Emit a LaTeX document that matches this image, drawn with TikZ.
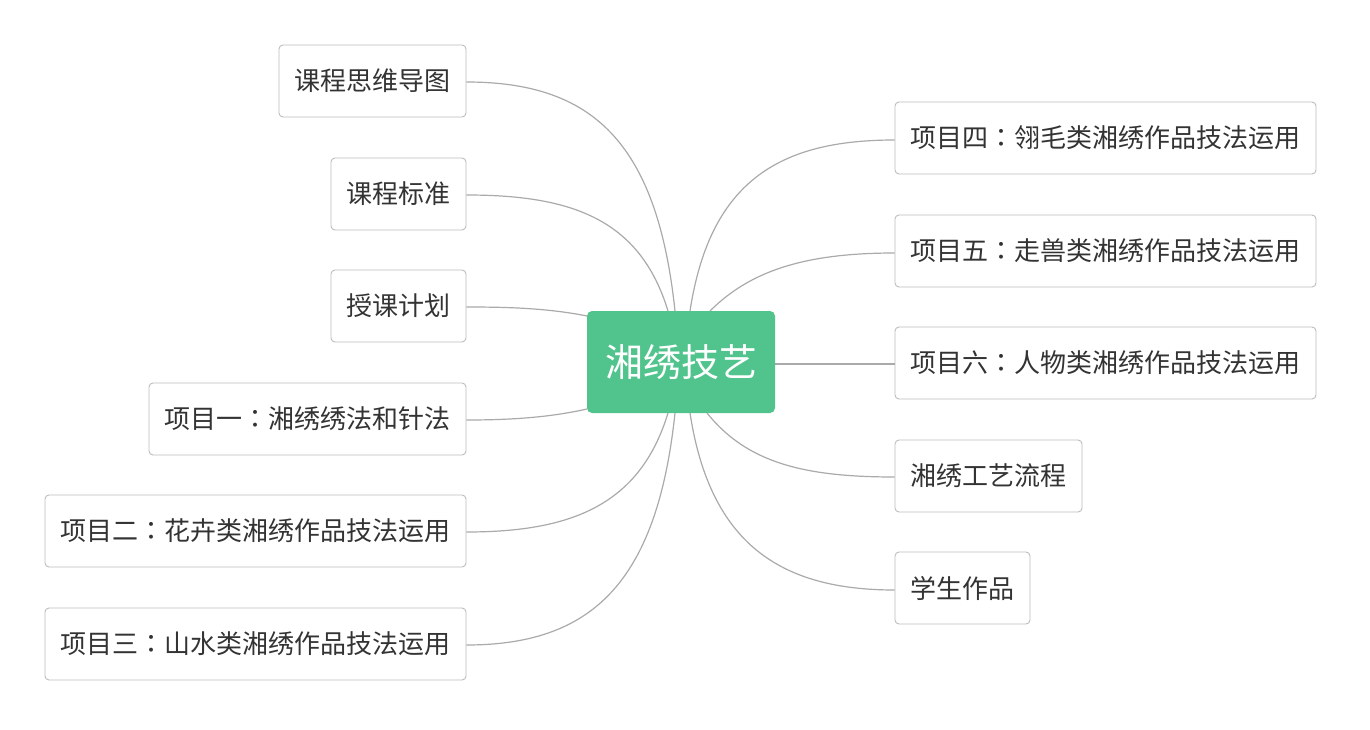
\documentclass[tikz,border=0pt]{standalone}
\usepackage{fontspec}
\newfontfamily\cjk{Noto Sans CJK SC}
\newfontfamily\cjktc{Noto Sans CJK TC}
\newcommand{\mycolon}{{\cjktc ：}}
\definecolor{mygreen}{HTML}{50C48C}
\definecolor{boxline}{HTML}{BDBDBD}
\definecolor{txt}{HTML}{333333}
\definecolor{link}{HTML}{AAAAAA}
\begin{document}
\begin{tikzpicture}[x=1pt,y=-1pt,
  leaf/.style={draw=boxline, line width=0.9pt, rounded corners=4pt, fill=white, text=txt,
    font=\cjk\fontsize{26}{30}\selectfont, inner sep=0pt, minimum height=72pt},
  root/.style={fill=mygreen, rounded corners=5pt, text=white, inner sep=0pt,
    font=\cjk\fontsize{38}{44}\selectfont, minimum width=188pt, minimum height=102pt},
  conn/.style={draw=link, line width=1.2pt}]
\useasboundingbox[fill=white] (0,0) rectangle (1370,730);
\node[root] (c) at (681,362) {湘绣技艺};
% left
\node[leaf, minimum width=187pt] (l1) at (372.5,81) {课程思维导图};
\node[leaf, minimum width=135pt] (l2) at (398.5,194) {课程标准};
\node[leaf, minimum width=135pt] (l3) at (398.5,306) {授课计划};
\node[leaf, minimum width=317pt] (l4) at (307.5,419) {项目一\mycolon 湘绣绣法和针法};
\node[leaf, minimum width=421pt] (l5) at (255.5,531) {项目二\mycolon 花卉类湘绣作品技法运用};
\node[leaf, minimum width=421pt] (l6) at (255.5,644) {项目三\mycolon 山水类湘绣作品技法运用};
% right
\node[leaf, minimum width=421pt] (r1) at (1105.5,138) {项目四\mycolon 翎毛类湘绣作品技法运用};
\node[leaf, minimum width=421pt] (r2) at (1105.5,251) {项目五\mycolon 走兽类湘绣作品技法运用};
\node[leaf, minimum width=421pt] (r3) at (1105.5,363) {项目六\mycolon 人物类湘绣作品技法运用};
\node[leaf, minimum width=187pt] (r4) at (988.5,476) {湘绣工艺流程};
\node[leaf, minimum width=135pt] (r5) at (962.5,588) {学生作品};
% start points
\coordinate (s1) at (675,311);
\coordinate (s2) at (668,311);
\coordinate (s3) at (587,316);
\coordinate (s4) at (587,409);
\coordinate (s5) at (668,413);
\coordinate (s6) at (675,413);
\coordinate (t1) at (690,311);
\coordinate (t2) at (710,311);
\coordinate (t4) at (707,413);
\coordinate (t5) at (690,413);
\draw[conn] (s1) .. controls +(-18,-170) and +(125,0) .. ([yshift=-1pt]l1.east);
\draw[conn] (s2) .. controls +(-28,-92) and +(105,0) .. ([yshift=-1pt]l2.east);
\draw[conn] (s3) .. controls +(-40,-8) and +(40,0) .. ([yshift=-1pt]l3.east);
\draw[conn] (s4) .. controls +(-40,9) and +(40,0) .. ([yshift=-1pt]l4.east);
\draw[conn] (s5) .. controls +(-28,92) and +(105,0) .. ([yshift=-1pt]l5.east);
\draw[conn] (s6) .. controls +(-18,170) and +(125,0) .. ([yshift=-1pt]l6.east);
\draw[conn] (t1) .. controls +(20,-130) and +(-115,0) .. ([yshift=-2pt]r1.west);
\draw[conn] (t2) .. controls +(40,-40) and +(-90,0) .. ([yshift=-2pt]r2.west);
\draw[conn] (c.east |- r3.west) ++(0,1) -- ([yshift=-1pt]r3.west);
\draw[conn] (t4) .. controls +(40,50) and +(-90,0) .. ([yshift=-1pt]r4.west);
\draw[conn] (t5) .. controls +(20,130) and +(-115,0) .. ([yshift=-2pt]r5.west);
\end{tikzpicture}
\end{document}
